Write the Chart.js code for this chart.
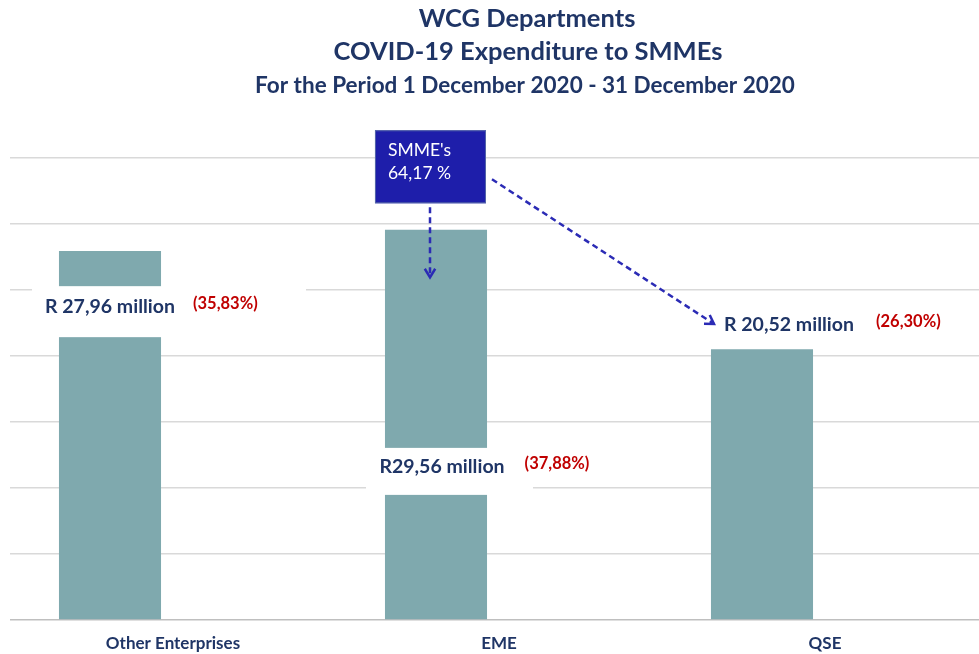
<!DOCTYPE html>
<html>
<head>
<meta charset="utf-8">
<script src="https://cdn.jsdelivr.net/npm/chart.js"></script>
<style>
    html, body { margin: 0; padding: 0; background: #fff; overflow: hidden; }
    #wrap { width: 988px; height: 654px; }
</style>
</head>
<body>
<div id="wrap"><canvas id="smme-chart" width="988" height="654"></canvas></div>
<script>
const categories = ['Other Enterprises', 'EME', 'QSE'];
const spendMillions = [27.96, 29.56, 20.52];
const valueLabels = ['R 27,96 million', 'R29,56 million', 'R 20,52 million'];
const shareLabels = ['(35,83%)', '(37,88%)', '(26,30%)'];
const smmeShareLabel = ['SMME\'s', '64,17 %'];
const yTicks = [0, 5, 10, 15, 20, 25, 30, 35];
const titleLines = [
    'WCG Departments',
    'COVID-19 Expenditure to SMMEs',
    'For the Period 1 December 2020 - 31 December 2020'
];

const navy = '#1F3566';
const red = '#C00000';
const barColor = '#7FA9AE';
const arrowColor = '#2B2BB5';
const font = 'Lato, "Open Sans", sans-serif';

// where each data label sits (y in axis units, x shift from bar centre) and its white backing box
const labelSpots = [
    { y: 23.7, dx: 0, gap: 18, box: { left: -78, right: 196, top: -21, bottom: 30 } },
    { y: 11.6, dx: 6, gap: 20, box: { left: -70, right: 97, top: -19, bottom: 28 } },
    { y: 22.35, dx: 27, gap: 22, box: null }
];

const titlePlugin = {
    id: 'titles',
    beforeDraw(chart) {
        const ctx = chart.ctx;
        ctx.save();
        ctx.fillStyle = navy;
        ctx.textAlign = 'center';
        ctx.textBaseline = 'middle';
        ctx.font = 'bold 25.5px ' + font;
        ctx.fillText(titleLines[0], 527, 19);
        ctx.fillText(titleLines[1], 528, 52);
        ctx.font = 'bold 22.5px ' + font;
        ctx.fillText(titleLines[2], 525, 86);
        ctx.restore();
    }
};

const labelsPlugin = {
    id: 'labels',
    afterDatasetsDraw(chart) {
        const ctx = chart.ctx;
        const y = chart.scales.y;
        const bars = chart.getDatasetMeta(0).data;
        ctx.save();

        bars.forEach((bar, i) => {
            const spot = labelSpots[i];
            const cy = y.getPixelForValue(spot.y);
            if (spot.box) {
                ctx.fillStyle = '#fff';
                ctx.fillRect(bar.x + spot.box.left, cy + spot.box.top,
                    spot.box.right - spot.box.left, spot.box.bottom - spot.box.top);
            }
            ctx.font = 'bold 19.5px ' + font;
            const w = ctx.measureText(valueLabels[i]).width;
            const left = bar.x + spot.dx - w / 2;
            ctx.fillStyle = navy;
            ctx.textBaseline = 'middle';
            ctx.textAlign = 'left';
            ctx.fillText(valueLabels[i], left, cy);
            ctx.font = 'bold 16.5px ' + font;
            ctx.fillStyle = red;
            ctx.fillText(shareLabels[i], left + w + spot.gap, cy - 3);
        });

        // SMME callout box above the EME bar
        const eme = bars[1];
        const bx = eme.x - eme.width / 2 - 10;
        const by = y.getPixelForValue(37.1);
        ctx.fillStyle = '#1E1EAA';
        ctx.strokeStyle = '#5566a8';
        ctx.lineWidth = 1;
        ctx.fillRect(bx, by, 111, 73);
        ctx.strokeRect(bx + 0.5, by + 0.5, 110, 72);
        ctx.fillStyle = '#fff';
        ctx.font = '17.5px ' + font;
        ctx.fillText(smmeShareLabel[0], bx + 13, by + 20);
        ctx.fillText(smmeShareLabel[1], bx + 13, by + 43);

        // dashed arrows
        const drawArrow = (x1, y1, x2, y2) => {
            ctx.strokeStyle = arrowColor;
            ctx.lineWidth = 2.5;
            ctx.setLineDash([6, 4]);
            ctx.beginPath();
            ctx.moveTo(x1, y1);
            ctx.lineTo(x2, y2);
            ctx.stroke();
            ctx.setLineDash([]);
            const a = Math.atan2(y2 - y1, x2 - x1);
            const h = 10;
            ctx.beginPath();
            ctx.moveTo(x2 - h * Math.cos(a - 0.55), y2 - h * Math.sin(a - 0.55));
            ctx.lineTo(x2, y2);
            ctx.lineTo(x2 - h * Math.cos(a + 0.55), y2 - h * Math.sin(a + 0.55));
            ctx.stroke();
        };
        drawArrow(eme.x - 6, by + 77, eme.x - 6, by + 147);
        const qse = bars[2];
        drawArrow(bx + 117, by + 49, qse.x - 48, y.getPixelForValue(22.35) - 1);

        ctx.restore();
    }
};

new Chart(document.getElementById('smme-chart'), {
    type: 'bar',
    data: {
        labels: categories,
        datasets: [
            {
                label: 'Expenditure (R million)',
                data: spendMillions,
                backgroundColor: barColor,
                borderWidth: 0,
                barPercentage: 0.81,
                categoryPercentage: 0.773
            },
            {
                label: 'spacer',
                data: categories.map(() => null),
                backgroundColor: 'rgba(0,0,0,0)',
                barPercentage: 0.81,
                categoryPercentage: 0.773
            }
        ]
    },
    options: {
        responsive: false,
        animation: false,
        layout: { padding: { left: 10, right: 0, top: 158, bottom: 0 } },
        plugins: {
            legend: { display: false },
            tooltip: { enabled: false },
            title: { display: false }
        },
        scales: {
            x: {
                grid: { display: false, drawTicks: false },
                border: { display: false },
                ticks: {
                    color: navy,
                    font: { family: font, size: 17, weight: 'bold' },
                    padding: 13
                },
                afterFit: (axis) => { axis.height = 34; }
            },
            y: {
                min: 0,
                max: 35,
                afterBuildTicks: (axis) => { axis.ticks = yTicks.map(v => ({ value: v })); },
                ticks: { display: false },
                border: { display: false },
                grid: {
                    drawTicks: false,
                    color: (c) => c.tick && c.tick.value === 0 ? '#BFBFBF' : '#D9D9D9',
                    lineWidth: 1.5
                }
            }
        }
    },
    plugins: [titlePlugin, labelsPlugin]
});
</script>
</body>
</html>
